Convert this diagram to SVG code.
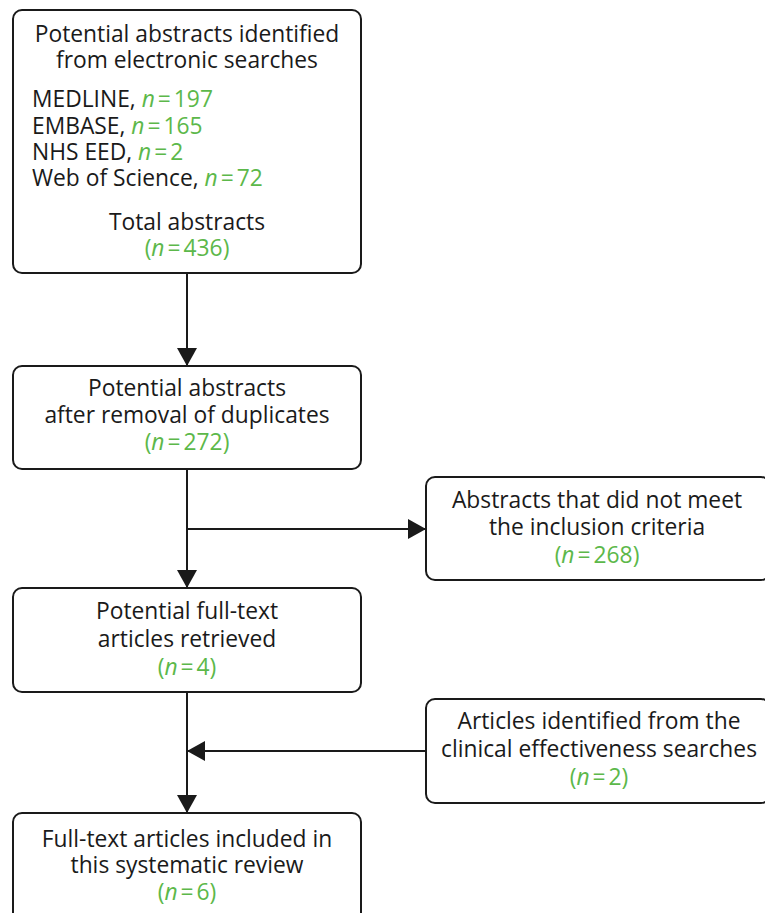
<svg xmlns="http://www.w3.org/2000/svg" width="765" height="913" viewBox="0 0 765 913">
<style>
.box{fill:#fff;stroke:#1a1a1a;stroke-width:2}
.t{font-family:"Open Sans","Noto Sans",sans-serif;font-size:22.8px;fill:#1a1a1a}
.c{text-anchor:middle}
.g{fill:#5cb84a}
.i{font-style:italic}
.ln{stroke:#1a1a1a;stroke-width:2;fill:none}
</style>
<defs>
<marker id="ah" viewBox="0 0 18 20" refX="18" refY="10" markerWidth="18" markerHeight="20" markerUnits="userSpaceOnUse" orient="auto">
<path d="M0,0 L18,10 L0,20 Z" fill="#1a1a1a"/>
</marker>
</defs>
<rect width="765" height="913" fill="#fff"/>
<g id="connectors">
<line class="ln" x1="187" y1="273" x2="187" y2="366" marker-end="url(#ah)"/>
<line class="ln" x1="187" y1="469" x2="187" y2="588" marker-end="url(#ah)"/>
<line class="ln" x1="187" y1="529" x2="426" y2="529" marker-end="url(#ah)"/>
<line class="ln" x1="187" y1="692" x2="187" y2="813" marker-end="url(#ah)"/>
<line class="ln" x1="426" y1="751" x2="187" y2="751" marker-end="url(#ah)"/>
</g>
<g id="n1">
<rect class="box" x="13" y="10" width="348" height="263" rx="9"/>
<text class="t c" x="187" y="42">Potential abstracts identified</text>
<text class="t c" x="187" y="68">from electronic searches</text>
<text class="t" x="32" y="107">MEDLINE, <tspan class="g i">n</tspan><tspan class="g" dx="3">=</tspan><tspan class="g" dx="3">197</tspan></text>
<text class="t" x="32" y="134">EMBASE, <tspan class="g i">n</tspan><tspan class="g" dx="3">=</tspan><tspan class="g" dx="3">165</tspan></text>
<text class="t" x="32" y="160">NHS EED, <tspan class="g i">n</tspan><tspan class="g" dx="3">=</tspan><tspan class="g" dx="3">2</tspan></text>
<text class="t" x="32" y="186">Web of Science, <tspan class="g i">n</tspan><tspan class="g" dx="3">=</tspan><tspan class="g" dx="3">72</tspan></text>
<text class="t c" x="187" y="230">Total abstracts</text>
<text class="t c g" x="187" y="256">(<tspan class="i">n</tspan><tspan dx="3">=</tspan><tspan dx="3">436)</tspan></text>
</g>
<g id="n2">
<rect class="box" x="13" y="366" width="348" height="103" rx="9"/>
<text class="t c" x="187" y="396">Potential abstracts</text>
<text class="t c" x="187" y="423">after removal of duplicates</text>
<text class="t c g" x="187" y="450">(<tspan class="i">n</tspan><tspan dx="3">=</tspan><tspan dx="3">272)</tspan></text>
</g>
<g id="n3">
<rect class="box" x="426" y="477" width="344" height="103" rx="9"/>
<text class="t c" x="597" y="508">Abstracts that did not meet</text>
<text class="t c" x="597" y="535">the inclusion criteria</text>
<text class="t c g" x="597" y="563">(<tspan class="i">n</tspan><tspan dx="3">=</tspan><tspan dx="3">268)</tspan></text>
</g>
<g id="n4">
<rect class="box" x="13" y="588" width="348" height="104" rx="9"/>
<text class="t c" x="187" y="619">Potential full-text</text>
<text class="t c" x="187" y="647">articles retrieved</text>
<text class="t c g" x="187" y="675">(<tspan class="i">n</tspan><tspan dx="3">=</tspan><tspan dx="3">4)</tspan></text>
</g>
<g id="n5">
<rect class="box" x="426" y="699" width="344" height="104" rx="9"/>
<text class="t c" x="599" y="729">Articles identified from the</text>
<text class="t c" x="599" y="757">clinical effectiveness searches</text>
<text class="t c g" x="599" y="785">(<tspan class="i">n</tspan><tspan dx="3">=</tspan><tspan dx="3">2)</tspan></text>
</g>
<g id="n6">
<rect class="box" x="13" y="813" width="348" height="110" rx="9"/>
<text class="t c" x="187" y="847">Full-text articles included in</text>
<text class="t c" x="187" y="873">this systematic review</text>
<text class="t c g" x="187" y="900">(<tspan class="i">n</tspan><tspan dx="3">=</tspan><tspan dx="3">6)</tspan></text>
</g>
</svg>
